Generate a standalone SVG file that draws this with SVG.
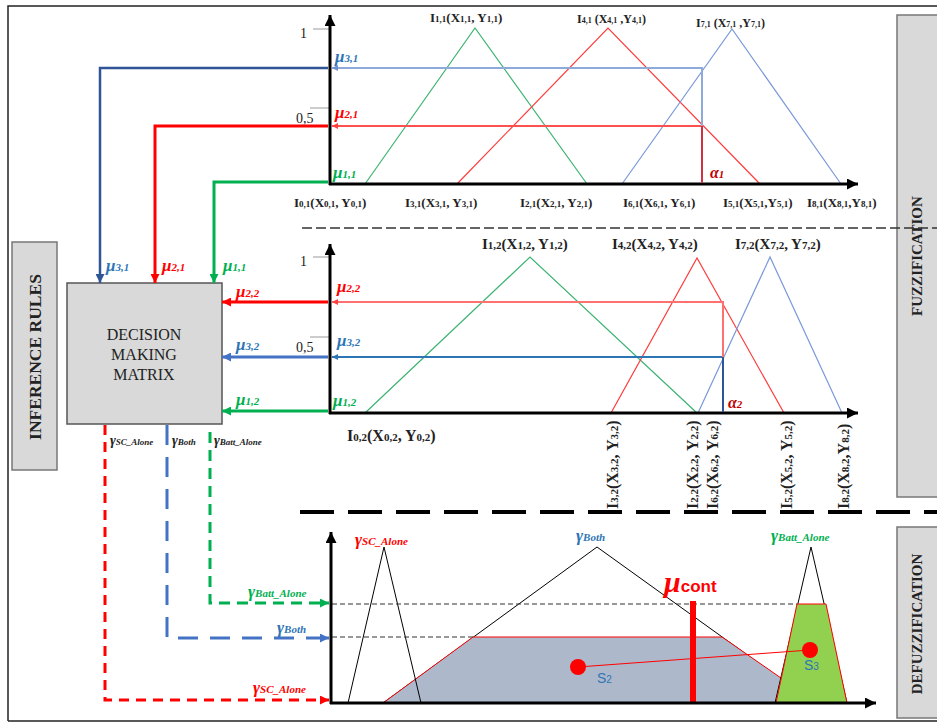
<svg xmlns="http://www.w3.org/2000/svg" width="937" height="724" viewBox="0 0 937 724">
<style>
.lbl{font-family:"Liberation Serif",serif;font-weight:bold;font-size:13px;fill:#222}
.lbl2{font-family:"Liberation Serif",serif;font-weight:bold;font-size:15px;fill:#222}
.lbl3{font-family:"Liberation Serif",serif;font-weight:bold;font-size:16px;fill:#222}
.s{font-size:9px}
.s2{font-size:11px}
.mu{font-family:"Liberation Serif",serif;font-style:italic;font-weight:bold;font-size:17px}
.ms{font-size:11px}
.ga{font-family:"Liberation Serif",serif;font-style:italic;font-weight:bold;font-size:17px}
.gs{font-size:11px}
.gsm{font-family:"Liberation Serif",serif;font-style:italic;font-weight:bold;font-size:14px;fill:#222}
.gsms{font-size:9px}
.tick{stroke:#999;stroke-width:1}
.num{font-family:"Liberation Serif",serif;font-size:14px;fill:#222}
.axis{stroke:#000;stroke-width:3;fill:none}
.tri{fill:none;stroke-width:1.2}
.side{fill:#d9d9d9;stroke:#777;stroke-width:1.5}
.sidet{font-family:"Liberation Serif",serif;font-weight:bold;fill:#222}
.blue{fill:#2e75b6}.red{fill:#ff0000}.green{fill:#00b050}.dred{fill:#c00000}
.sl{font-family:"Liberation Sans",sans-serif;font-size:14px;fill:#2e75b6}
</style>
<defs>
<marker id="ak" viewBox="0 0 10 10" refX="10" refY="5" markerUnits="userSpaceOnUse" markerWidth="12" markerHeight="11" orient="auto"><path d="M0,0 L10,5 L0,10 z" fill="#000"/></marker>
<marker id="ab" viewBox="0 0 10 10" refX="10" refY="5" markerUnits="userSpaceOnUse" markerWidth="10" markerHeight="9" orient="auto"><path d="M0,0 L10,5 L0,10 z" fill="#2f5597"/></marker>
<marker id="ab2" viewBox="0 0 10 10" refX="10" refY="5" markerUnits="userSpaceOnUse" markerWidth="10" markerHeight="9" orient="auto"><path d="M0,0 L10,5 L0,10 z" fill="#4472c4"/></marker>
<marker id="ar" viewBox="0 0 10 10" refX="10" refY="5" markerUnits="userSpaceOnUse" markerWidth="10" markerHeight="9" orient="auto"><path d="M0,0 L10,5 L0,10 z" fill="#ff0000"/></marker>
<marker id="ag" viewBox="0 0 10 10" refX="10" refY="5" markerUnits="userSpaceOnUse" markerWidth="10" markerHeight="9" orient="auto"><path d="M0,0 L10,5 L0,10 z" fill="#00b050"/></marker>
<marker id="alb" viewBox="0 0 10 10" refX="10" refY="5" markerUnits="userSpaceOnUse" markerWidth="6" markerHeight="6" orient="auto"><path d="M0,0 L10,5 L0,10 z" fill="#6f8fd0"/></marker>
<marker id="alr" viewBox="0 0 10 10" refX="10" refY="5" markerUnits="userSpaceOnUse" markerWidth="6" markerHeight="6" orient="auto"><path d="M0,0 L10,5 L0,10 z" fill="#ff4040"/></marker>
<marker id="adb" viewBox="0 0 10 10" refX="10" refY="5" markerUnits="userSpaceOnUse" markerWidth="6" markerHeight="6" orient="auto"><path d="M0,0 L10,5 L0,10 z" fill="#2e75b6"/></marker>
</defs>
<rect width="937" height="724" fill="#fff"/>
<path d="M8,721 V6 H937" fill="none" stroke="#222" stroke-width="1.5"/>
<line x1="8" y1="721" x2="937" y2="721" stroke="#222" stroke-width="1.5"/>

<g id="inference-rules">
<rect class="side" x="12" y="242" width="45" height="228"/>
<text class="sidet" style="font-size:17.5px" transform="translate(41,357) rotate(-90)" text-anchor="middle">INFERENCE RULES</text>
</g>
<g id="fuzzification">
<rect class="side" x="897" y="15" width="45" height="482"/>
<text class="sidet" style="font-size:15px" transform="translate(922,256) rotate(-90)" text-anchor="middle">FUZZIFICATION</text>
</g>
<g id="defuzzification">
<rect class="side" x="897" y="527" width="45" height="191"/>
<text class="sidet" style="font-size:15px" transform="translate(922,624) rotate(-90)" text-anchor="middle">DEFUZZIFICATION</text>
</g>
<g id="decision-matrix">
<rect x="67" y="283" width="155" height="141" fill="#d9d9d9" stroke="#555" stroke-width="1.5"/>
<text font-family="Liberation Serif, serif" font-size="16" fill="#222" text-anchor="middle"><tspan x="144" y="340">DECISION</tspan><tspan x="144" y="360">MAKING</tspan><tspan x="144" y="380">MATRIX</tspan></text>
</g>

<line x1="302" y1="228" x2="937" y2="228" stroke="#333" stroke-width="1.5" stroke-dasharray="10,4"/>
<line x1="300" y1="512" x2="937" y2="512" stroke="#000" stroke-width="4" stroke-dasharray="34,14"/>

<g id="chart-1">
<polyline class="tri" stroke="#3cb371" points="365,184 475,28 587,184"/>
<polyline class="tri" stroke="#ff3b3b" points="457,184 608,28 760,184"/>
<polyline class="tri" stroke="#7a98da" points="622,184 732,29 841,184"/>
<line class="tick" x1="313" y1="29" x2="330" y2="29"/>
<line class="tick" x1="310" y1="108" x2="330" y2="108"/>
<text class="num" x="300" y="38">1</text>
<text class="num" x="296" y="123">0,5</text>
<text class="lbl" x="430" y="22">I<tspan class="s">1,1</tspan>(X<tspan class="s">1,1</tspan>, Y<tspan class="s">1,1</tspan>)</text>
<text class="lbl" style="font-size:12px" x="577" y="23">I<tspan style="font-size:8px">4,1</tspan> (X<tspan style="font-size:8px">4,1</tspan> ,Y<tspan style="font-size:8px">4,1</tspan>)</text>
<text class="lbl" style="font-size:12px" x="696" y="27">I<tspan style="font-size:8px">7,1</tspan> (X<tspan style="font-size:8px">7,1</tspan> ,Y<tspan style="font-size:8px">7,1</tspan>)</text>
<text class="lbl" x="294" y="207">I<tspan class="s">0,1</tspan>(X<tspan class="s">0,1</tspan>, Y<tspan class="s">0,1</tspan>)</text>
<text class="lbl" x="405" y="207">I<tspan class="s">3,1</tspan>(X<tspan class="s">3,1</tspan>, Y<tspan class="s">3,1</tspan>)</text>
<text class="lbl" x="520" y="207">I<tspan class="s">2,1</tspan>(X<tspan class="s">2,1</tspan>, Y<tspan class="s">2,1</tspan>)</text>
<text class="lbl" x="623" y="207">I<tspan class="s">6,1</tspan>(X<tspan class="s">6,1</tspan>, Y<tspan class="s">6,1</tspan>)</text>
<text class="lbl" x="723" y="207">I<tspan class="s">5,1</tspan>(X<tspan class="s">5,1</tspan>,Y<tspan class="s">5,1</tspan>)</text>
<text class="lbl" x="807" y="207">I<tspan class="s">8,1</tspan>(X<tspan class="s">8,1</tspan>,Y<tspan class="s">8,1</tspan>)</text>
<text class="mu blue" x="335" y="62">μ<tspan class="ms">3,1</tspan></text>
<text class="mu red" x="335" y="118">μ<tspan class="ms">2,1</tspan></text>
<text class="mu green" x="333" y="178">μ<tspan class="ms">1,1</tspan></text>
<text class="mu dred" style="font-size:16px" x="710" y="178">α<tspan class="ms">1</tspan></text>
</g>

<g id="chart-2">
<polyline class="tri" stroke="#3cb371" points="365,413 530,257 697,413"/>
<polyline class="tri" stroke="#ff3b3b" points="611,413 697,258 784,413"/>
<polyline class="tri" stroke="#7a98da" points="698,413 770,257 842,413"/>
<line class="tick" x1="313" y1="257" x2="330" y2="257"/>
<line class="tick" x1="310" y1="337" x2="330" y2="337"/>
<text class="num" x="300" y="266">1</text>
<text class="num" x="296" y="352">0,5</text>
<text class="lbl2" x="482" y="249">I<tspan class="s2">1,2</tspan>(X<tspan class="s2">1,2</tspan>, Y<tspan class="s2">1,2</tspan>)</text>
<text class="lbl2" x="612" y="249">I<tspan class="s2">4,2</tspan>(X<tspan class="s2">4,2</tspan>, Y<tspan class="s2">4,2</tspan>)</text>
<text class="lbl2" x="735" y="249">I<tspan class="s2">7,2</tspan>(X<tspan class="s2">7,2</tspan>, Y<tspan class="s2">7,2</tspan>)</text>
<text class="lbl3" x="347" y="441">I<tspan class="s2">0,2</tspan>(X<tspan class="s2">0,2</tspan>, Y<tspan class="s2">0,2</tspan>)</text>
<text class="lbl3" transform="translate(618,509) rotate(-90)">I<tspan class="s2">3,2</tspan>(X<tspan class="s2">3,2</tspan>, Y<tspan class="s2">3,2</tspan>)</text>
<text class="lbl3" transform="translate(698,509) rotate(-90)">I<tspan class="s2">2,2</tspan>(X<tspan class="s2">2,2</tspan>, Y<tspan class="s2">2,2</tspan>)</text>
<text class="lbl3" transform="translate(718,509) rotate(-90)">I<tspan class="s2">6,2</tspan>(X<tspan class="s2">6,2</tspan>, Y<tspan class="s2">6,2</tspan>)</text>
<text class="lbl3" transform="translate(792,509) rotate(-90)">I<tspan class="s2">5,2</tspan>(X<tspan class="s2">5,2</tspan>, Y<tspan class="s2">5,2</tspan>)</text>
<text class="lbl3" transform="translate(849,509) rotate(-90)">I<tspan class="s2">8,2</tspan>(X<tspan class="s2">8,2</tspan>,Y<tspan class="s2">8,2</tspan>)</text>
<text class="mu red" x="337" y="292">μ<tspan class="ms">2,2</tspan></text>
<text class="mu blue" x="337" y="346">μ<tspan class="ms">3,2</tspan></text>
<text class="mu green" x="333" y="406">μ<tspan class="ms">1,2</tspan></text>
<text class="mu dred" style="font-size:16px" x="728" y="408">α<tspan class="ms">2</tspan></text>
</g>

<g id="box-labels">
<text class="mu blue" x="106" y="271">μ<tspan class="ms">3,1</tspan></text>
<text class="mu red" x="162" y="271">μ<tspan class="ms">2,1</tspan></text>
<text class="mu green" x="223" y="271">μ<tspan class="ms">1,1</tspan></text>
<text class="mu red" x="236" y="297">μ<tspan class="ms">2,2</tspan></text>
<text class="mu blue" x="236" y="350">μ<tspan class="ms">3,2</tspan></text>
<text class="mu green" x="236" y="405">μ<tspan class="ms">1,2</tspan></text>
<text class="gsm" x="110" y="445">γ<tspan class="gsms">SC_Alone</tspan></text>
<text class="gsm" x="172" y="445">γ<tspan class="gsms">Both</tspan></text>
<text class="gsm" x="214" y="445">γ<tspan class="gsms">Batt_Alone</tspan></text>
<text class="ga green" x="248" y="597">γ<tspan class="gs">Batt_Alone</tspan></text>
<text class="ga blue" x="277" y="633">γ<tspan class="gs">Both</tspan></text>
<text class="ga red" x="253" y="693">γ<tspan class="gs">SC_Alone</tspan></text>
</g>

<g id="chart-3">
<polyline fill="none" stroke="#000" stroke-width="1" points="383,703 597,547 814,703"/>
<polygon points="383,703 473,637 722,637 781,678 776,703" fill="#adb9ca"/>
<polyline fill="none" stroke="#ff0000" stroke-width="1" points="383,703 473,637 722,637 781,678"/>
<polyline fill="none" stroke="#000" stroke-width="1" points="348,703 384,547 421,703"/>
<polyline fill="none" stroke="#000" stroke-width="1" points="775,703 811,547 847,703"/>
<polygon points="776,703 797,604 826,604 847,703" fill="#92d050" stroke="#ff0000" stroke-width="1"/>
<line x1="332" y1="604" x2="797" y2="604" stroke="#333" stroke-width="1" stroke-dasharray="5,3"/>
<line x1="332" y1="637" x2="473" y2="637" stroke="#333" stroke-width="1" stroke-dasharray="5,3"/>
<rect x="690" y="601" width="6" height="102" fill="#ff0000"/>
<line x1="578" y1="667" x2="810" y2="650" stroke="#ff0000" stroke-width="1"/>
<circle cx="578" cy="667" r="8" fill="#ff0000"/>
<circle cx="810" cy="650" r="8" fill="#ff0000"/>
<text class="sl" x="597" y="683">S<tspan style="font-size:10px">2</tspan></text>
<text class="sl" x="804" y="670">S<tspan style="font-size:10px">3</tspan></text>
<text x="664" y="592" fill="#ff0000"><tspan font-family="Liberation Serif, serif" font-style="italic" font-weight="bold" font-size="30">μ</tspan><tspan font-family="Liberation Sans, sans-serif" font-weight="bold" font-size="17">cont</tspan></text>
<text class="ga red" x="355" y="545">γ<tspan class="gs">SC_Alone</tspan></text>
<text class="ga blue" x="576" y="541">γ<tspan class="gs">Both</tspan></text>
<text class="ga green" x="771" y="541">γ<tspan class="gs">Batt_Alone</tspan></text>
</g>

<g id="connectors">
<line class="axis" x1="330" y1="185" x2="330" y2="15" marker-end="url(#ak)"/>
<line class="axis" x1="329" y1="184" x2="858" y2="184" marker-end="url(#ak)"/>
<line class="axis" x1="330" y1="414" x2="330" y2="244" marker-end="url(#ak)"/>
<line class="axis" x1="329" y1="413" x2="858" y2="413" marker-end="url(#ak)"/>
<line class="axis" x1="331" y1="704" x2="331" y2="532" marker-end="url(#ak)"/>
<line class="axis" x1="330" y1="703" x2="876" y2="703" marker-end="url(#ak)"/>
<line x1="702" y1="68" x2="332" y2="68" stroke="#8eaadb" stroke-width="2" marker-end="url(#alb)"/>
<line x1="703" y1="126" x2="332" y2="126" stroke="#ff5050" stroke-width="2" marker-end="url(#alr)"/>
<line x1="702" y1="67" x2="702" y2="126" stroke="#8eaadb" stroke-width="2"/>
<line x1="702" y1="126" x2="702" y2="183" stroke="#d03040" stroke-width="2"/>
<line x1="723" y1="302" x2="332" y2="302" stroke="#ff7070" stroke-width="2" marker-end="url(#alr)"/>
<line x1="723" y1="357" x2="332" y2="357" stroke="#2e75b6" stroke-width="2" marker-end="url(#adb)"/>
<line x1="723" y1="301" x2="723" y2="357" stroke="#ff7070" stroke-width="2"/>
<line x1="723" y1="357" x2="723" y2="412" stroke="#2f5597" stroke-width="2"/>
<path d="M328,68 H100 V283" fill="none" stroke="#2f5597" stroke-width="2.5" marker-end="url(#ab)"/>
<path d="M328,126 H155 V283" fill="none" stroke="#ff0000" stroke-width="3" marker-end="url(#ar)"/>
<path d="M328,182 H214 V283" fill="none" stroke="#00b050" stroke-width="3" marker-end="url(#ag)"/>
<path d="M328,302 H222" fill="none" stroke="#ff0000" stroke-width="3" marker-end="url(#ar)"/>
<path d="M328,357 H222" fill="none" stroke="#4472c4" stroke-width="3" marker-end="url(#ab2)"/>
<path d="M328,411 H222" fill="none" stroke="#00b050" stroke-width="3" marker-end="url(#ag)"/>
<path d="M105,425 V700 H320" fill="none" stroke="#ff0000" stroke-width="3" stroke-dasharray="10,7"/>
<line x1="320" y1="700" x2="329" y2="700" stroke="#ff0000" stroke-width="3" marker-end="url(#ar)"/>
<path d="M167,425 V638 H320" fill="none" stroke="#4472c4" stroke-width="3" stroke-dasharray="20,12"/>
<line x1="320" y1="638" x2="329" y2="638" stroke="#4472c4" stroke-width="3" marker-end="url(#ab2)"/>
<path d="M210,432 V603 H320" fill="none" stroke="#00b050" stroke-width="3" stroke-dasharray="11,7"/>
<line x1="320" y1="603" x2="329" y2="603" stroke="#00b050" stroke-width="3" marker-end="url(#ag)"/>
</g>
</svg>
